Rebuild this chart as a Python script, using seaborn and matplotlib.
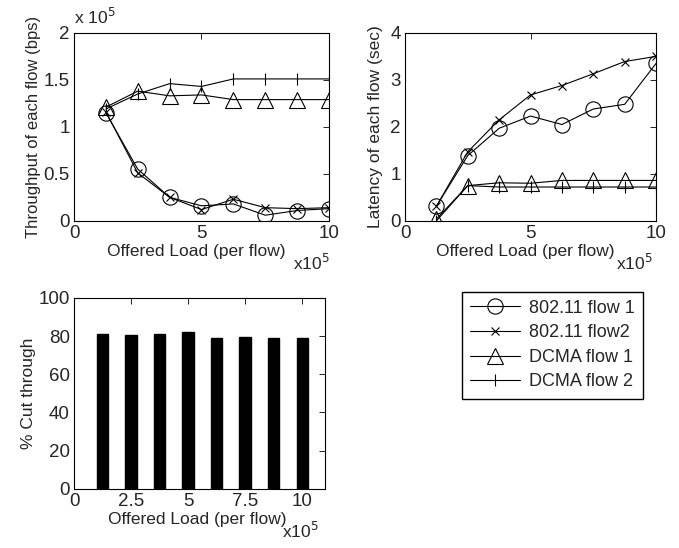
import matplotlib
matplotlib.use("Agg")
import matplotlib.pyplot as plt
import seaborn as sns
import pandas as pd

sns.set_theme(style="white")
plt.rcParams["font.family"] = ["Liberation Sans", "DejaVu Sans"]
plt.rcParams["xtick.direction"] = "in"
plt.rcParams["ytick.direction"] = "in"
plt.rcParams["xtick.top"] = True
plt.rcParams["ytick.right"] = True
plt.rcParams["axes.edgecolor"] = "black"
plt.rcParams["axes.linewidth"] = 0.8

# offered load per flow (x 1e5)
load = [1.25, 2.5, 3.75, 5, 6.25, 7.5, 8.75, 10]

# throughput (x 1e5 bps)
thr_80211_f1 = [1.15, 0.55, 0.25, 0.16, 0.18, 0.06, 0.11, 0.13]
thr_80211_f2 = [1.16, 0.51, 0.25, 0.12, 0.23, 0.14, 0.13, 0.14]
thr_dcma_f1 = [1.21, 1.38, 1.33, 1.34, 1.29, 1.29, 1.29, 1.29]
thr_dcma_f2 = [1.19, 1.35, 1.46, 1.43, 1.51, 1.51, 1.51, 1.51]

# latency (sec)
lat_80211_f1 = [0.31, 1.39, 1.97, 2.23, 2.05, 2.38, 2.48, 3.35]
lat_80211_f2 = [0.31, 1.47, 2.15, 2.68, 2.88, 3.13, 3.39, 3.50]
lat_dcma_f1 = [0.04, 0.75, 0.81, 0.80, 0.86, 0.86, 0.86, 0.86]
lat_dcma_f2 = [0.00, 0.75, 0.72, 0.72, 0.72, 0.72, 0.72, 0.72]

# percent cut through
cut_through = [81.3, 80.3, 81.2, 82.0, 79.2, 79.6, 79.2, 78.9]

series_names = ["802.11 flow 1", "802.11 flow2", "DCMA flow 1", "DCMA flow 2"]
markers = ["o", "x", "^", "|"]
msizes = [11, 6, 11, 9]

fig = plt.figure(figsize=(6.79, 5.48), dpi=100)
ax1 = fig.add_axes([0.109, 0.597, 0.3755, 0.343])
ax2 = fig.add_axes([0.5965, 0.597, 0.3697, 0.343])
ax3 = fig.add_axes([0.109, 0.108, 0.3697, 0.3485])

fs = 12.5


def draw_lines(ax, ys):
    for y, name, m, ms in zip(ys, series_names, markers, msizes):
        sns.lineplot(x=load, y=y, ax=ax, color="black", lw=0.8, marker=m,
                     markersize=ms, markerfacecolor="none", markeredgecolor="black",
                     markeredgewidth=0.8, label=name, legend=False)


draw_lines(ax1, [thr_80211_f1, thr_80211_f2, thr_dcma_f1, thr_dcma_f2])
ax1.set_xlim(0, 10)
ax1.set_ylim(0, 2)
ax1.set_xticks([0, 5, 10])
ax1.set_yticks([0, 0.5, 1, 1.5, 2])
ax1.set_yticklabels(["0", "0.5", "1", "1.5", "2"])
ax1.set_ylabel("Throughput of each flow (bps)", fontsize=12, labelpad=2)
ax1.text(0.0, 1.03, r"x 10$^5$", transform=ax1.transAxes, fontsize=fs, ha="left", va="bottom")

draw_lines(ax2, [lat_80211_f1, lat_80211_f2, lat_dcma_f1, lat_dcma_f2])
ax2.set_xlim(0, 10)
ax2.set_ylim(0, 4)
ax2.set_xticks([0, 5, 10])
ax2.set_yticks([0, 1, 2, 3, 4])
ax2.set_ylabel("Latency of each flow (sec)", fontsize=fs, labelpad=5)

df = pd.DataFrame({"load": load, "cut": cut_through})
sns.barplot(data=df, x="load", y="cut", ax=ax3, native_scale=True, width=0.4,
            color="black", edgecolor="black", saturation=1)
ax3.set_xlim(0, 11)
ax3.set_ylim(0, 100)
ax3.set_xticks([0, 2.5, 5, 7.5, 10])
ax3.set_xticklabels(["0", "2.5", "5", "7.5", "10"])
ax3.set_yticks([0, 20, 40, 60, 80, 100])
ax3.set_ylabel("% Cut through", fontsize=fs, labelpad=2)

# (xlabel centre fraction, x10^5 fraction)
xlabel_pos = {ax1: (0.48, 0.86), ax2: (0.48, 0.84), ax3: (0.49, 0.83)}

for ax in (ax1, ax2, ax3):
    ax.tick_params(labelsize=13.5, length=4, width=0.6, color="black", pad=3)
    ax.set_xlabel("")
    cx, mx = xlabel_pos[ax]
    ax.annotate("Offered Load (per flow)", xy=(cx, 0), xycoords="axes fraction",
                xytext=(0, -22), textcoords="offset points",
                fontsize=fs, ha="center", va="center")
    ax.annotate(r"x10$^5$", xy=(mx, 0), xycoords="axes fraction",
                xytext=(0, -30), textcoords="offset points",
                fontsize=fs, ha="left", va="center")
    for s in ax.spines.values():
        s.set_visible(True)
        s.set_color("black")

handles, labels = ax1.get_legend_handles_labels()
fig.legend(handles, labels, loc="upper left", bbox_to_anchor=(0.68, 0.468),
           fontsize=13, frameon=True, fancybox=False, edgecolor="black",
           framealpha=1, handlelength=2.8, handletextpad=0.5, borderpad=0.45,
           labelspacing=0.42, borderaxespad=0)

fig.savefig("out.png", dpi=100)
plt.close(fig)
